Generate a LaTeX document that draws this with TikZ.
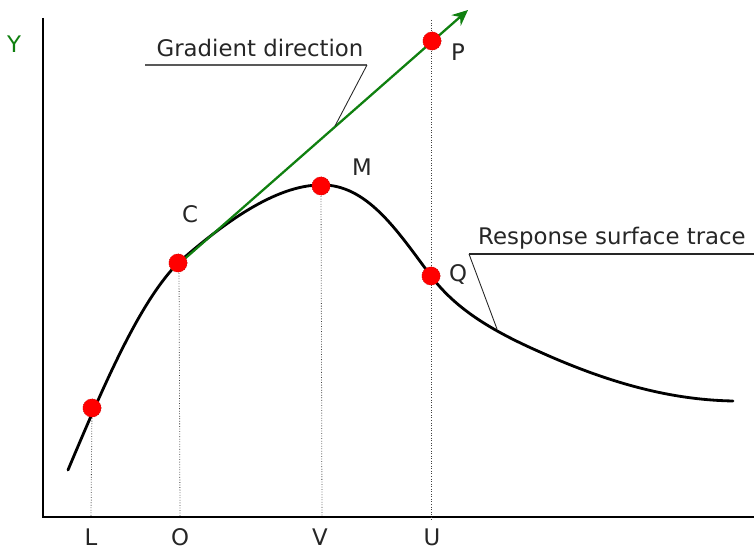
\documentclass[tikz,border=0pt]{standalone}
\usepackage{fontspec}
\setmainfont{DejaVu Sans}
\usetikzlibrary{arrows.meta}
\definecolor{grad}{RGB}{16,128,16}
\begin{document}
\begin{tikzpicture}[x=0.02cm,y=-0.02cm,
  axis/.style={line width=1.6pt,black},
  curve/.style={line width=1.6pt,black},
  guide/.style={densely dotted,line width=0.45pt,black!75},
  dot/.style={circle,fill=red,draw=red!60!black,densely dotted,line width=0.3pt,minimum size=0.37cm,inner sep=0pt},
  lbl/.style={font=\fontsize{13}{15}\selectfont,text=black!85},
  leader/.style={line width=0.5pt,black!85}]
\useasboundingbox (0,0) rectangle (754,550);
% axes
\coordinate (top) at (43,18);
\coordinate (orig) at (43,517);
\coordinate (xend) at (754,517);
\draw[axis] (top) -- (orig) -- (xend);
\node[lbl,text=grad] (Y) at (14,44) {Y};
% guides
\coordinate (Lb) at (91,517);
\coordinate (Ob) at (180,517);
\coordinate (Vb) at (322,517);
\coordinate (Ub) at (431,521);
\coordinate (Ut) at (431,20);
\draw[guide] (92,408) -- (Lb);
\draw[guide] (179,263) -- (Ob);
\draw[guide] (321,186) -- (Vb);
\draw[guide] (Ut) -- (Ub);
% curve
\draw[curve,line cap=round] (68,470) .. controls (110,370) and (142,300) .. (178,263)
  .. controls (228,219) and (280,183) .. (325,185)
  .. controls (370,187) and (400,235) .. (431,276)
  .. controls (455,308) and (490,330) .. (540,352)
  .. controls (620,388) and (680,400) .. (733,401);
% gradient line
\coordinate (gs) at (172,270);
\coordinate (gt) at (468,10);
\draw[grad,line width=1.3pt,-{Stealth[length=9pt,width=8pt,inset=3pt]}] (gs) -- (gt);
% dots
\node[dot] (L) at (92,408) {};
\node[dot] (C) at (178,263) {};
\node[dot] (M) at (321,186) {};
\node[dot] (Q) at (431,276) {};
\node[dot] (P) at (432,41) {};
% point labels
\node[lbl] (Cl) at (190,214) {C};
\node[lbl] (Ml) at (362,167) {M};
\node[lbl] (Pl) at (458,52) {P};
\node[lbl] (Ql) at (458,274) {Q};
\node[lbl] (Ll) at (91,537) {L};
\node[lbl] (Ol) at (180,537) {O};
\node[lbl] (Vl) at (320,537) {V};
\node[lbl] (Ul) at (432,537) {U};
% leader labels
\node[lbl] (gd) at (260,48) {Gradient direction};
\coordinate (gd1) at (145,65);
\coordinate (gd2) at (367,65);
\coordinate (gd3) at (335,126);
\draw[leader,line width=0.9pt,black!65] (gd1) -- (gd2);
\draw[leader] (gd2) -- (gd3);
\node[lbl] (rs) at (612,238) {Response surface trace};
\coordinate (rs1) at (754,254);
\coordinate (rs2) at (469,254);
\coordinate (rs3) at (497,329);
\draw[leader,line width=0.8pt] (rs1) -- (rs2);
\draw[leader] (rs2) -- (rs3);
\end{tikzpicture}
\end{document}
